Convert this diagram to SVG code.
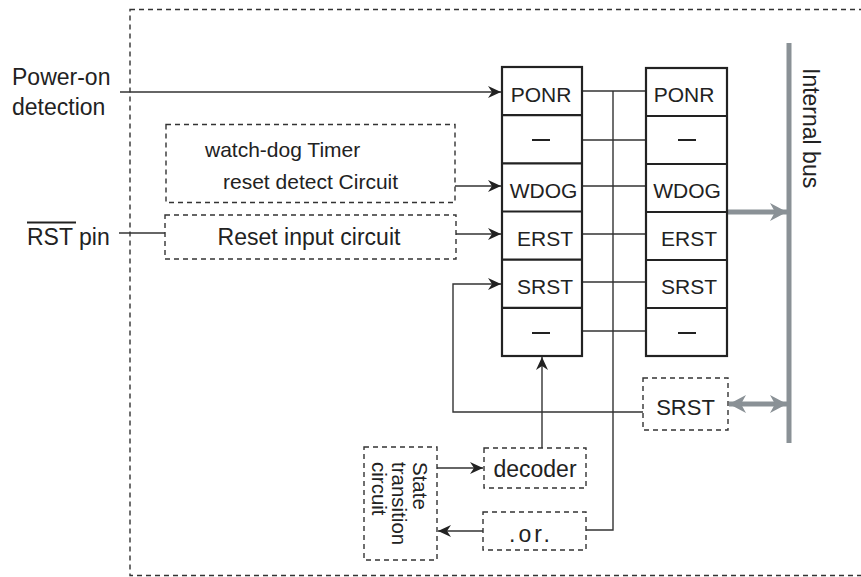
<svg xmlns="http://www.w3.org/2000/svg" width="861" height="577" viewBox="0 0 861 577">
<style>
text{font-family:"Liberation Sans",Arial,sans-serif;fill:#222;}
.ln{fill:none;stroke:#333;stroke-width:1.4;}
.ds{fill:#fff;stroke:#333;stroke-width:1.4;stroke-dasharray:5,4;}
.rg{fill:#fff;stroke:#222;stroke-width:2.2;}
.gb{fill:none;stroke:#8a9196;stroke-width:5;}
.c{font-size:21px;text-anchor:middle;}
</style>
<defs>
<marker id="ah" markerUnits="userSpaceOnUse" markerWidth="14" markerHeight="12" refX="13" refY="6" orient="auto">
<path d="M0,0 L13,6 L0,12 L4,6 z" fill="#222"/>
</marker>
<marker id="ga" markerUnits="userSpaceOnUse" markerWidth="18" markerHeight="20" refX="17" refY="10" orient="auto-start-reverse">
<path d="M0,1 L17,10 L0,19 L5,10 z" fill="#8a9196"/>
</marker>
</defs>
<rect class="ds" x="130" y="9.5" width="740" height="566" style="fill:none"/>
<g id="connectors">
<path class="ln" d="M120,92 H501" marker-end="url(#ah)"/>
<path class="ln" d="M455,186 H501" marker-end="url(#ah)"/>
<path class="ln" d="M119,233 H165"/>
<path class="ln" d="M456,234 H501" marker-end="url(#ah)"/>
<path class="ln" d="M643,412 H453 V284 H501" marker-end="url(#ah)"/>
<path class="ln" d="M542,448 V357" marker-end="url(#ah)"/>
<path class="ln" d="M437,468 H483" marker-end="url(#ah)"/>
<path class="ln" d="M483,531 H438" marker-end="url(#ah)"/>
<path class="ln" d="M586,530 H613 V91"/>
<path class="ln" d="M582,91 H646 M582,140 H646 M582,186 H646 M582,234 H646 M582,282 H646 M582,331 H646"/>
<path class="gb" d="M727,212 H787" marker-end="url(#ga)"/>
<path class="gb" d="M729,404 H787" marker-start="url(#ga)" marker-end="url(#ga)"/>
</g>
<g id="bus">
<line x1="789" y1="43" x2="789" y2="443" stroke="#8a9196" stroke-width="5"/>
<text transform="translate(803,68) rotate(90)" font-size="23">Internal bus</text>
</g>
<g id="power-on">
<text x="12" y="85" font-size="23">Power-on</text>
<text x="12" y="115" font-size="23">detection</text>
</g>
<g id="rst-pin">
<text x="27" y="245" font-size="23">RST pin</text>
<line x1="27" y1="222.5" x2="76" y2="222.5" stroke="#222" stroke-width="2"/>
</g>
<g id="wdt">
<rect class="ds" x="166" y="124.5" width="289" height="78"/>
<text x="205" y="157" font-size="21">watch-dog Timer</text>
<text x="223" y="188.5" font-size="21">reset detect Circuit</text>
</g>
<g id="reset-input">
<rect class="ds" x="165" y="215" width="291" height="44"/>
<text x="309" y="245" font-size="23" text-anchor="middle">Reset input circuit</text>
</g>
<g id="reg-left">
<rect class="rg" x="502" y="67" width="80" height="289"/>
<path class="rg" d="M502,115.2 H582 M502,163.3 H582 M502,211.5 H582 M502,259.7 H582 M502,307.8 H582"/>
<text class="c" x="541" y="101.5">PONR</text>
<line x1="532" y1="140" x2="550" y2="140" stroke="#222" stroke-width="2"/>
<text class="c" x="543.5" y="197.5">WDOG</text>
<text class="c" x="545" y="245.5">ERST</text>
<text class="c" x="545" y="293.5">SRST</text>
<line x1="532" y1="333" x2="550" y2="333" stroke="#222" stroke-width="2"/>
</g>
<g id="reg-right">
<rect class="rg" x="646" y="68" width="81" height="288"/>
<path class="rg" d="M646,116 H727 M646,164 H727 M646,212 H727 M646,260 H727 M646,308 H727"/>
<text class="c" x="684" y="101.5">PONR</text>
<line x1="678" y1="140" x2="696" y2="140" stroke="#222" stroke-width="2"/>
<text class="c" x="687" y="197.5">WDOG</text>
<text class="c" x="689" y="245.5">ERST</text>
<text class="c" x="689" y="293.5">SRST</text>
<line x1="678" y1="333" x2="696" y2="333" stroke="#222" stroke-width="2"/>
</g>
<g id="srst-box">
<rect class="ds" x="643" y="378" width="85" height="52"/>
<text x="685.5" y="415" font-size="22" text-anchor="middle">SRST</text>
</g>
<g id="decoder">
<rect class="ds" x="484" y="448" width="102" height="40"/>
<text x="535" y="477" font-size="23" text-anchor="middle">decoder</text>
</g>
<g id="or">
<rect class="ds" x="483" y="512" width="103" height="38"/>
<text x="531" y="542" font-size="23" text-anchor="middle" letter-spacing="3">.or.</text>
</g>
<g id="state">
<rect class="ds" x="364" y="447" width="73" height="113"/>
<text transform="translate(413,462) rotate(90)" font-size="20.5">State</text>
<text transform="translate(392,462) rotate(90)" font-size="20.5">transition</text>
<text transform="translate(372,462) rotate(90)" font-size="20.5">circuit</text>
</g>
</svg>
